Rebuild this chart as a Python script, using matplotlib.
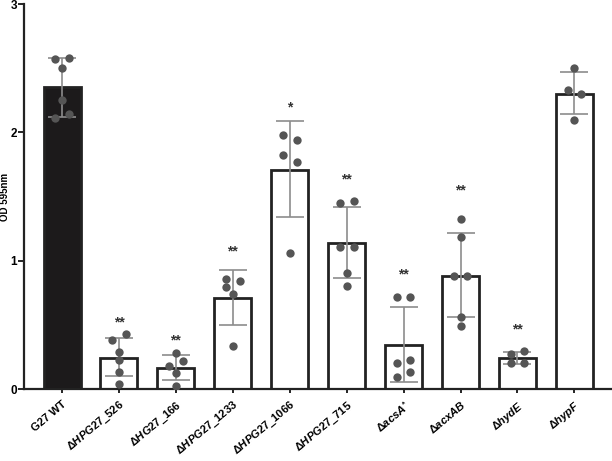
import numpy as np
import matplotlib.pyplot as plt

plt.rcParams['font.family'] = ['Liberation Sans', 'DejaVu Sans']
plt.rcParams['mathtext.fontset'] = 'custom'
plt.rcParams['mathtext.it'] = 'Liberation Sans:italic:bold'
plt.rcParams['mathtext.rm'] = 'Liberation Sans:bold'
plt.rcParams['mathtext.bf'] = 'Liberation Sans:bold'

strains = ['G27 WT', 'ΔHPG27_526', 'ΔHG27_166', 'ΔHPG27_1233', 'ΔHPG27_1066',
           'ΔHPG27_715', 'ΔacsA*', 'ΔacxAB', 'ΔhydE', 'ΔhypF']
tick_labels = ['G27 WT',
               r'Δ$\mathit{HPG27\_526}$',
               r'Δ$\mathit{HG27\_166}$',
               r'Δ$\mathit{HPG27\_1233}$',
               r'Δ$\mathit{HPG27\_1066}$',
               r'Δ$\mathit{HPG27\_715}$',
               r'Δ$\mathit{acsA}^{*}$',
               r'Δ$\mathit{acxAB}$',
               r'Δ$\mathit{hydE}$',
               r'Δ$\mathit{hypF}$']

means = [2.356, 0.242, 0.161, 0.709, 1.707, 1.135, 0.343, 0.881, 0.239, 2.302]
err_hi = [2.577, 0.400, 0.265, 0.930, 2.089, 1.421, 0.639, 1.216, 0.291, 2.473]
err_lo = [2.122, 0.104, 0.070, 0.499, 1.340, 0.868, 0.057, 0.559, 0.192, 2.143]

# replicate values, with horizontal jitter slot (-1 left, 0 centre, 1 right)
points = [
    [2.57, 2.58, 2.50, 2.25, 2.115, 2.14],
    [0.382, 0.426, 0.286, 0.229, 0.135, 0.041],
    [0.283, 0.182, 0.218, 0.125, 0.026],
    [0.860, 0.842, 0.797, 0.743, 0.338],
    [1.977, 1.938, 1.821, 1.772, 1.062],
    [1.452, 1.468, 1.109, 1.109, 0.907, 0.805],
    [0.717, 0.717, 0.200, 0.229, 0.096, 0.130],
    [1.325, 1.182, 0.881, 0.881, 0.564, 0.491],
    [0.275, 0.299, 0.203, 0.203],
    [2.50, 2.33, 2.30, 2.10],
]
slots = [
    [-1, 1, 0, 0, -1, 1],
    [-1, 1, 0, 0, 0, 0],
    [0, -1, 1, 0, 0],
    [-1, 1, -1, 0, 0],
    [-1, 1, -1, 1, 0],
    [-1, 1, -1, 1, 0, 0],
    [-1, 1, -1, 1, -1, 1],
    [0, 0, -1, 1, 0, 0],
    [-1, 1, -1, 1],
    [0, -1, 1, 0],
]

sig = ['', '**', '**', '**', '*', '**', '**', '**', '**', '']
sig_y = [0, 0.52, 0.376, 1.076, 2.195, 1.634, 0.896, 1.546, 0.468, 0]

fig = plt.figure(figsize=(6.12, 4.61), dpi=100)
ax = fig.add_axes([0.039, 0.156, 0.961, 0.835])

x = np.arange(len(strains))
colors = ['#1c1a1b'] + ['white'] * (len(strains) - 1)
ax.bar(x, means, width=0.65, color=colors, edgecolor='#222222', linewidth=2, zorder=2)

lower = np.array(means) - np.array(err_lo)
upper = np.array(err_hi) - np.array(means)
ax.errorbar(x, means, yerr=[lower, upper], fmt='none', ecolor='#8c8c8c',
            elinewidth=1.2, capsize=10, capthick=1.2, zorder=3)

for i in range(len(strains)):
    xs = x[i] + np.array(slots[i]) * 0.12
    ax.plot(xs, points[i], 'o', color='#555555', markersize=6, markeredgewidth=0, zorder=4)
    if sig[i]:
        ax.text(x[i], sig_y[i], sig[i], ha='center', va='center', fontsize=10,
                fontweight='bold', color='#333333', zorder=5)

ax.set_xlim(-0.67, 9.66)
ax.set_ylim(0, 3)
ax.set_yticks([0, 1, 2, 3])
ax.set_yticklabels(['0', '1', '2', '3'], fontsize=8.5, fontweight='bold')
ax.set_xticks(x)
ax.set_xticklabels(tick_labels, rotation=40, ha='right', va='top', rotation_mode='anchor',
                   fontsize=8, fontweight='bold')
ax.tick_params(axis='x', length=3, width=1.2, pad=4)
ax.tick_params(axis='y', length=4, width=1.2, pad=1)
ax.set_ylabel('OD 595nm', fontsize=7, fontweight='bold')
ax.yaxis.set_label_coords(-0.023, 0.50)

for s in ['top', 'right']:
    ax.spines[s].set_visible(False)
for s in ['left', 'bottom']:
    ax.spines[s].set_linewidth(1.6)
    ax.spines[s].set_color('#222222')

fig.savefig('out.png', dpi=100)
